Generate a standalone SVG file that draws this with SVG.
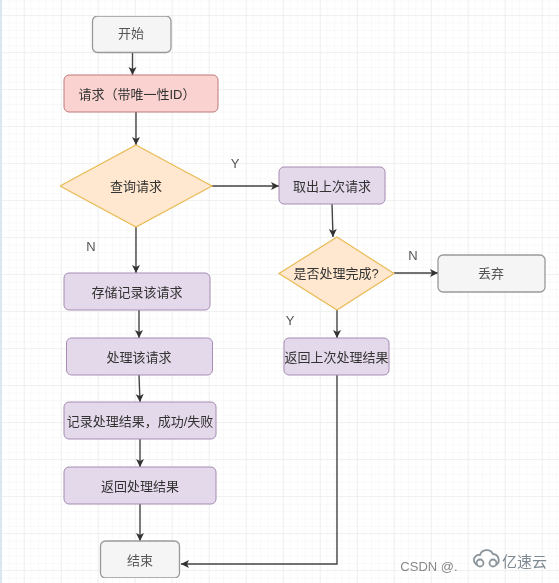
<svg xmlns="http://www.w3.org/2000/svg" width="559" height="583" viewBox="0 0 559 583">
<style>
text{font-family:"Liberation Sans","Noto Sans CJK SC",sans-serif;font-size:13px;fill:#333;text-anchor:middle;dominant-baseline:central}
.g{fill:#f5f5f5;stroke:#999;stroke-width:1.3}
.gt{fill:#555}
.r{fill:#fad2d0;stroke:#c07a78;stroke-width:1}
.p{fill:#e4d9ea;stroke:#a68bb4;stroke-width:1}
.d{fill:#ffe8cf;stroke:#e8bb55;stroke-width:1.2}
.c{fill:none;stroke:#444;stroke-width:1.4;marker-end:url(#a)}
.l{fill:#555}
.minor{stroke:#f4f4f4;stroke-width:1}
.major{stroke:#e8e8e8;stroke-width:1}
</style>
<defs>
<marker id="a" markerUnits="userSpaceOnUse" markerWidth="9" markerHeight="9" refX="8" refY="4" orient="auto"><path d="M0 0L8 4L0 8L2 4Z" fill="#333"/></marker>
<pattern id="gm" width="7.4" height="7.4" patternUnits="userSpaceOnUse" x="1" y="0.5"><path d="M7.4 0H0V7.4" fill="none" class="minor"/></pattern>
<pattern id="gM" width="37" height="37" patternUnits="userSpaceOnUse" x="24" y="15"><path d="M37 0H0V37" fill="none" class="major"/></pattern>
<filter id="s" x="0" y="0" width="100%" height="100%"><feGaussianBlur stdDeviation="0.45"/></filter>
</defs>
<rect width="559" height="583" fill="#fff"/>
<rect width="559" height="583" fill="url(#gm)"/>
<rect width="559" height="583" fill="url(#gM)"/>
<rect width="2" height="583" fill="#dbe6f1"/>
<g filter="url(#s)">
<g id="connectors">
<path class="c" d="M132.500 52.500V75"/>
<path class="c" d="M136 112V145"/>
<path class="c" d="M212 186H279"/>
<path class="c" d="M136 227V273"/>
<path class="c" d="M332 204L333 237"/>
<path class="c" d="M394 273H438"/>
<path class="c" d="M337 310V338"/>
<path class="c" d="M139 310V338"/>
<path class="c" d="M139 375L140 402"/>
<path class="c" d="M140 439V467"/>
<path class="c" d="M140 504V541"/>
<path class="c" d="M337 375V564H181"/>
</g>
<g id="start"><rect class="g" x="92.500" y="16" width="78.500" height="36.500" rx="5"/><text class="gt" x="131" y="33">开始</text></g>
<g id="request"><rect class="r" x="64" y="75" width="154" height="37" rx="5"/><text x="137" y="94">请求（带唯一性ID）</text></g>
<g id="query"><polygon class="d" points="136,145 212,186 136,227 60,186"/><text x="136" y="186">查询请求</text></g>
<g id="fetch"><rect class="p" x="279" y="167" width="106" height="37" rx="5"/><text x="332" y="186">取出上次请求</text></g>
<g id="done"><polygon class="d" points="337,237 394,273.500 337,310 279,273.500"/><text x="336" y="273.500">是否处理完成?</text></g>
<g id="discard"><rect class="g" x="438" y="255" width="107" height="37" rx="5"/><text class="gt" x="491" y="273.500">丢弃</text></g>
<g id="returnlast"><rect class="p" x="284" y="338" width="105" height="37" rx="5"/><text x="336.500" y="357">返回上次处理结果</text></g>
<g id="store"><rect class="p" x="64" y="273" width="146" height="37" rx="5"/><text x="137" y="292">存储记录该请求</text></g>
<g id="process"><rect class="p" x="66.500" y="338" width="146" height="37" rx="5"/><text x="139" y="357">处理该请求</text></g>
<g id="record"><rect class="p" x="64" y="402" width="152" height="37" rx="5"/><text x="140" y="421">记录处理结果，成功/失败</text></g>
<g id="return"><rect class="p" x="64" y="467" width="152" height="37" rx="5"/><text x="140" y="486">返回处理结果</text></g>
<g id="end"><rect class="g" x="100.500" y="541" width="79" height="37" rx="5"/><text class="gt" x="140" y="560">结束</text></g>
<g id="labels">
<text class="l" x="235" y="163">Y</text>
<text class="l" x="91" y="246">N</text>
<text class="l" x="413" y="255">N</text>
<text class="l" x="290" y="320">Y</text>
</g>
<g id="watermark">
<text x="429" y="566" style="font-size:13px;fill:#888">CSDN @.</text>
<g fill="none" stroke="#8a949c" stroke-width="1.800"><path d="M478 565a5 5 0 1 1 2-10a7 7 0 0 1 13-1a6 6 0 0 1 3 11"/><circle cx="480" cy="563" r="3.500"/><circle cx="493" cy="563" r="3.500"/></g>
<text x="524.500" y="561" style="font-size:15px;fill:#7f8a92">亿速云</text>
</g>
</g>
</svg>
